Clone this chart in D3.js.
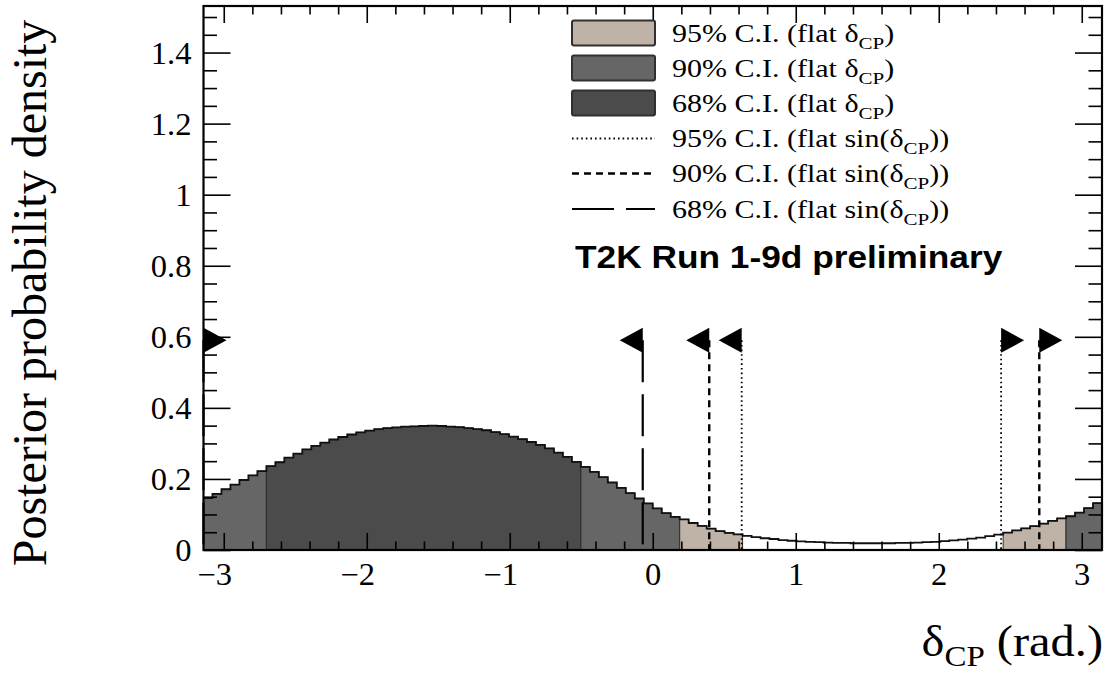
<!DOCTYPE html>
<html>
<head>
<meta charset="utf-8">
<script src="https://cdn.jsdelivr.net/npm/d3@7"></script>
<style>
  html, body { margin: 0; padding: 0; background: #ffffff; }
  svg { display: block; }
</style>
</head>
<body>
<svg id="chart" width="1107" height="679"></svg>
<script>
// Posterior probability density of delta_CP, 100 bins over [-pi, pi]
const binRange = [-Math.PI, Math.PI];
const density = [
  0.146, 0.158, 0.171, 0.184, 0.197, 0.210, 0.222, 0.236, 0.247, 0.260,
  0.271, 0.283, 0.293, 0.302, 0.311, 0.318, 0.325, 0.331, 0.336, 0.340,
  0.343, 0.345, 0.347, 0.348, 0.349, 0.350, 0.349, 0.347, 0.346, 0.343,
  0.340, 0.337, 0.332, 0.326, 0.319, 0.312, 0.304, 0.296, 0.286, 0.274,
  0.262, 0.248, 0.234, 0.220, 0.205, 0.190, 0.175, 0.160, 0.145, 0.131,
  0.117, 0.104, 0.093, 0.086, 0.076, 0.068, 0.060, 0.053, 0.048, 0.044,
  0.040, 0.036, 0.033, 0.031, 0.028, 0.026, 0.024, 0.023, 0.022, 0.021,
  0.020, 0.020, 0.019, 0.019, 0.019, 0.019, 0.019, 0.020, 0.020, 0.021,
  0.022, 0.023, 0.025, 0.027, 0.029, 0.032, 0.035, 0.039, 0.043, 0.049,
  0.055, 0.061, 0.067, 0.074, 0.082, 0.089, 0.095, 0.105, 0.118, 0.132
];

// Credible intervals with a flat prior in delta_CP (radians)
const ci68Flat = [[-2.70, -0.50]];
const ci90Flat = [[-Math.PI, 0.19], [2.89, Math.PI]];
const ci95Flat = [[-Math.PI, 0.63], [2.45, Math.PI]];

// Credible intervals with a flat prior in sin(delta_CP): [lower, upper]
// (an interval whose lower bound exceeds its upper bound wraps through +-pi)
const ci68Sin = [-Math.PI, -0.07];
const ci90Sin = [2.703, 0.395];
const ci95Sin = [2.436, 0.622];
const markerHeight = 0.59;

// Axis ticks
const xMajorTicks = [-3, -2, -1, 0, 1, 2, 3];
const xTickLabels = ["\u22123", "\u22122", "\u22121", "0", "1", "2", "3"];
const yMajorTicks = [0, 0.2, 0.4, 0.6, 0.8, 1.0, 1.2, 1.4];
const yTickLabels = ["0", "0.2", "0.4", "0.6", "0.8", "1", "1.2", "1.4"];
const yMax = 1.531;

// Legend entries
const legendFill = [
  { label: "95% C.I. (flat ", sub: "CP", tail: ")", fill: "#bfb3a8" },
  { label: "90% C.I. (flat ", sub: "CP", tail: ")", fill: "#666666" },
  { label: "68% C.I. (flat ", sub: "CP", tail: ")", fill: "#4b4b4b" }
];
const legendLine = [
  { label: "95% C.I. (flat sin(", sub: "CP", tail: "))", dash: "1.6,3", width: 1.8 },
  { label: "90% C.I. (flat sin(", sub: "CP", tail: "))", dash: "7,5", width: 2.4 },
  { label: "68% C.I. (flat sin(", sub: "CP", tail: "))", dash: "42,12", width: 2.2 }
];

// ---- layout ----
const W = 1107, H = 679;
const plot = { left: 203.5, right: 1102, top: 6, bottom: 550 };
const serif = "'Liberation Serif', 'Times New Roman', serif";
const sans = "'Liberation Sans', Arial, Helvetica, sans-serif";
const colDark = "#4b4b4b", colMid = "#666666", colBeige = "#bfb3a8";

const svg = d3.select("#chart");
svg.append("rect").attr("width", W).attr("height", H).attr("fill", "#fff");

const x = d3.scaleLinear().domain(binRange).range([plot.left, plot.right]);
const y = d3.scaleLinear().domain([0, yMax]).range([plot.bottom, plot.top]);

const nBins = density.length;
const bw = (binRange[1] - binRange[0]) / nBins;
const bins = density.map((v, i) => ({
  x0: binRange[0] + i * bw,
  x1: binRange[0] + (i + 1) * bw,
  c: binRange[0] + (i + 0.5) * bw,
  v
}));

const inside = (ivs, c) => ivs.some(([a, b]) => c >= a && c <= b);
bins.forEach(b => {
  if (inside(ci68Flat, b.c)) b.cls = "68";
  else if (inside(ci90Flat, b.c)) b.cls = "90";
  else if (inside(ci95Flat, b.c)) b.cls = "95";
  else b.cls = null;
});
const fillOf = { "68": colDark, "90": colMid, "95": colBeige };

// group consecutive bins of the same class into filled step areas
const runs = [];
bins.forEach(b => {
  const last = runs[runs.length - 1];
  if (last && last.cls === b.cls) last.bins.push(b);
  else runs.push({ cls: b.cls, bins: [b] });
});

const gHist = svg.append("g");
runs.filter(r => r.cls).forEach(r => {
  let d = `M${x(r.bins[0].x0)},${y(0)}`;
  r.bins.forEach(b => { d += `V${y(b.v)}H${x(b.x1)}`; });
  d += `V${y(0)}Z`;
  gHist.append("path").attr("d", d)
    .attr("fill", fillOf[r.cls])
    .attr("stroke", "#2b2b2b").attr("stroke-width", 1);
});

// histogram outline
let outline = `M${x(bins[0].x0)},${y(bins[0].v)}`;
bins.forEach(b => { outline += `V${y(b.v)}H${x(b.x1)}`; });
gHist.append("path").attr("d", outline)
  .attr("fill", "none").attr("stroke", "#111").attr("stroke-width", 1.8);

// flat sin(delta_CP) interval markers
const gSin = svg.append("g");
function marker(xv, dir, style) {
  const px = x(xv), py = y(markerHeight);
  gSin.append("line")
    .attr("x1", px).attr("x2", px).attr("y1", py).attr("y2", y(0))
    .attr("stroke", "#000").attr("stroke-width", style.width)
    .attr("stroke-dasharray", style.dash);
  const aw = 23, ah = 25;
  gSin.append("path")
    .attr("d", `M${px},${py - ah / 2}L${px + dir * aw},${py}L${px},${py + ah / 2}Z`)
    .attr("fill", "#000");
}
[[ci95Sin, legendLine[0]], [ci90Sin, legendLine[1]], [ci68Sin, legendLine[2]]]
  .forEach(([iv, style]) => {
    marker(iv[0], +1, style);
    marker(iv[1], -1, style);
  });

// ---- axes (ticks inside on all four sides) ----
const xMinorTicks = d3.range(-15, 16).map(k => k * 0.2)
  .filter(v => Math.abs(v - Math.round(v)) > 1e-6 && Math.abs(v) < Math.PI);
const yMinorTicks = d3.range(1, 31).map(k => k * 0.05)
  .filter(v => Math.abs(v / 0.2 - Math.round(v / 0.2)) > 1e-6 && v < yMax);

function styleAxis(g) {
  g.select(".domain").remove();
  g.selectAll(".tick line").attr("stroke", "#000").attr("stroke-width", 1.6);
}

svg.append("g").attr("transform", `translate(0,${plot.bottom})`)
  .call(d3.axisBottom(x).tickValues(xMinorTicks).tickSize(-8.5).tickFormat(""))
  .call(styleAxis);
svg.append("g").attr("transform", `translate(0,${plot.top})`)
  .call(d3.axisTop(x).tickValues(xMinorTicks).tickSize(-8.5).tickFormat(""))
  .call(styleAxis);
svg.append("g").attr("transform", `translate(0,${plot.top})`)
  .call(d3.axisTop(x).tickValues(xMajorTicks).tickSize(-17).tickFormat(""))
  .call(styleAxis);
const xAxis = svg.append("g").attr("transform", `translate(0,${plot.bottom})`)
  .call(d3.axisBottom(x).tickValues(xMajorTicks).tickSize(-17)
    .tickPadding(12).tickFormat((d, i) => xTickLabels[i]))
  .call(styleAxis);
xAxis.selectAll(".tick text")
  .attr("font-family", serif).attr("font-size", 31).attr("fill", "#000")
  .attr("y", 12).attr("dy", "0.75em")
  .attr("x", d => d < 0 ? -9 : 0)
  .attr("transform", "scale(1.05,1)");

svg.append("g").attr("transform", `translate(${plot.left},0)`)
  .call(d3.axisLeft(y).tickValues(yMinorTicks).tickSize(-13.5).tickFormat(""))
  .call(styleAxis);
svg.append("g").attr("transform", `translate(${plot.right},0)`)
  .call(d3.axisRight(y).tickValues(yMinorTicks).tickSize(-13.5).tickFormat(""))
  .call(styleAxis);
svg.append("g").attr("transform", `translate(${plot.right},0)`)
  .call(d3.axisRight(y).tickValues(yMajorTicks).tickSize(-27).tickFormat(""))
  .call(styleAxis);
const yAxis = svg.append("g").attr("transform", `translate(${plot.left},0)`)
  .call(d3.axisLeft(y).tickValues(yMajorTicks).tickSize(-27)
    .tickPadding(12).tickFormat((d, i) => yTickLabels[i]))
  .call(styleAxis);
yAxis.selectAll(".tick text")
  .attr("font-family", serif).attr("font-size", 31).attr("fill", "#000")
  .attr("x", -11.5).attr("dy", "0.34em")
  .attr("transform", "scale(1.05,1)");

// frame
svg.append("rect")
  .attr("x", plot.left).attr("y", plot.top)
  .attr("width", plot.right - plot.left).attr("height", plot.bottom - plot.top)
  .attr("fill", "none").attr("stroke", "#000").attr("stroke-width", 2.2);

// ---- legend ----
const gLeg = svg.append("g");
const legX0 = 572, legX1 = 655, legText = 672;
const rowY = [33, 68, 103, 138.5, 173.5, 209];
function legendLabel(cy, e) {
  const t = gLeg.append("text")
    .attr("transform", `translate(${legText},${cy + 8.5}) scale(1.2,1)`)
    .attr("font-family", serif).attr("font-size", 25).attr("fill", "#000");
  t.append("tspan").text(e.label + "\u03b4");
  t.append("tspan").attr("font-size", 17.5).attr("dy", 7).text(e.sub);
  t.append("tspan").attr("dy", -7).text(e.tail);
}
legendFill.forEach((e, i) => {
  const cy = rowY[i];
  gLeg.append("rect")
    .attr("x", legX0).attr("y", cy - 12.5).attr("width", legX1 - legX0).attr("height", 25)
    .attr("rx", 2).attr("fill", e.fill).attr("stroke", "#303030").attr("stroke-width", 2);
  legendLabel(cy, e);
});
legendLine.forEach((e, i) => {
  const cy = rowY[i + 3];
  gLeg.append("line")
    .attr("x1", legX0).attr("x2", legX1).attr("y1", cy).attr("y2", cy)
    .attr("stroke", "#000").attr("stroke-width", e.width)
    .attr("stroke-dasharray", e.dash);
  legendLabel(cy, e);
});

// experiment label
svg.append("text")
  .attr("transform", "translate(575,268) scale(1.12,1)")
  .attr("font-family", sans).attr("font-weight", "bold").attr("font-size", 31.5)
  .attr("fill", "#000").text("T2K Run 1-9d preliminary");

// axis titles
svg.append("text")
  .attr("transform", "translate(46,293) rotate(-90)")
  .attr("text-anchor", "middle")
  .attr("font-family", serif).attr("font-size", 48).attr("fill", "#000")
  .text("Posterior probability density");

const xt = svg.append("text")
  .attr("transform", "translate(1103,656) scale(1.1,1)")
  .attr("text-anchor", "end")
  .attr("font-family", serif).attr("font-size", 44).attr("fill", "#000");
xt.append("tspan").text("\u03b4");
xt.append("tspan").attr("font-size", 30).attr("dy", 10).text("CP");
xt.append("tspan").attr("dy", -10).text(" (rad.)");
</script>
</body>
</html>
